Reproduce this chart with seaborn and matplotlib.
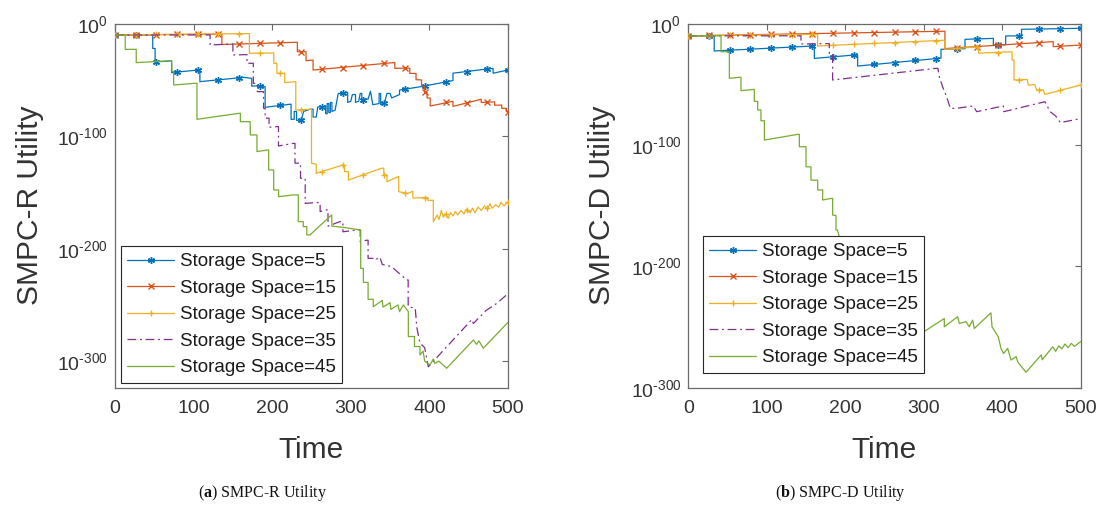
import numpy as np
import matplotlib
matplotlib.use("Agg")
import matplotlib.pyplot as plt
import seaborn as sns
from matplotlib.lines import Line2D

# ---------------- data (utility given as log10 exponent) ----------------
LABELS = ["Storage Space=5", "Storage Space=15", "Storage Space=25",
          "Storage Space=35", "Storage Space=45"]
COLORS = ["#0072BD", "#D95319", "#EDB120", "#7E2F8E", "#77AC30"]
MARK_T = [0, 26.3, 52.6, 78.9, 105.3, 131.6, 157.9, 184.2, 210.5, 236.8,
          263.2, 289.5, 315.8, 342.1, 368.4, 394.7, 421.1, 447.4, 473.7, 500]
X_TICKS = [0, 100, 200, 300, 400, 500]
Y_TICKS = [0, -100, -200, -300]
Y_TICK_LABELS = [r"$10^{0}$", r"$10^{\text{-}100}$", r"$10^{\text{-}200}$", r"$10^{\text{-}300}$"]

# ---- SMPC-R ----
L5_T = [0, 48, 48, 51, 51, 72, 72, 108, 108, 164, 174, 174, 186, 186, 191, 191, 224, 224, 228, 228,
        231, 231, 237, 240, 248, 252, 252, 256, 258, 264, 268, 268, 270, 270, 272, 272, 274, 274, 276, 276,
        280, 284, 290, 296, 296, 300, 302, 306, 306, 310, 312, 314, 314, 318, 322, 325, 328, 336, 336, 338,
        338, 343, 346, 350, 352, 362, 362, 394, 430, 430, 473, 481, 481, 500]
L5_E = [-10, -10, -22, -22, -34, -33, -43.5, -41, -51.5, -47.7, -48.6, -55.5, -55, -56, -56, -74.3, -71.5, -85, -85, -78,
        -78, -86, -85.5, -78, -76, -76, -83, -83, -74, -74, -73, -80, -80, -71, -71, -79, -79, -70, -70, -78,
        -77, -62, -62, -61, -70, -69, -63, -63, -70, -69, -62, -62, -70, -67, -67, -60, -72, -71, -62, -62,
        -72, -70, -62, -62, -66, -63, -59, -55.4, -50.5, -44, -40.3, -39.8, -44, -41.2]
L5_M = [-10, -10, -33.9, -43, -41.2, -49.9, -48.1, -55.1, -72.6, -85.5, -74, -62, -68, -70.4, -58.3,
        -55.3, -51.7, -42.5, -40.3, -41.2]

L15_T = [0, 136, 136, 212, 232, 232, 243, 243, 252, 252, 356, 356, 375, 375, 383, 383, 390, 390, 394, 394,
         397, 397, 401, 401, 430, 430, 466, 466, 483, 483, 492, 492, 498, 498, 500]
L15_E = [-10, -9.3, -18.5, -16.9, -16.5, -24.9, -24.9, -32.9, -32.3, -41.2, -34.5, -39.7, -39.5, -44.1, -44.3,
         -49.8, -50, -55.4, -55.6, -61, -61, -66, -66, -73.2, -69, -73.5, -67.2, -70, -69.5, -72.5,
         -72.3, -75.2, -75.2, -78.2, -78.2]
L15_M = [-10, -9.9, -9.7, -9.6, -9.5, -9.3, -18, -17.5, -16.9, -24.9, -40.5, -39, -37.7, -35.3, -39.6,
         -61, -69.3, -70.4, -69.8, -78.2]

L25_T = [0, 171, 171, 202, 202, 206, 206, 216, 216, 230, 230, 250, 250, 256, 256, 290, 292, 292, 297, 297,
         339, 342, 342, 346, 346, 360, 361, 361, 372, 379, 379, 398, 398, 405, 405, 410, 412, 414, 415, 418,
         420, 424, 427, 430, 433, 436, 440, 444, 447, 452, 455, 458, 462, 466, 470, 474, 477, 480, 484, 488,
         491, 495, 500]
L25_E = [-10, -8.8, -26.3, -26, -35.2, -35.2, -44.1, -44.1, -52.4, -51.5, -76.7, -76, -124, -125, -133, -125.6,
         -125.6, -131.5, -131.5, -139, -128.5, -128.5, -134.5, -134.5, -140.4, -136, -136, -149.3, -151, -149,
         -155, -154.5, -157, -157, -176, -170, -174, -170, -166, -172, -169, -173, -168, -171, -167, -170,
         -166, -169, -165, -168, -164, -168, -163, -166, -162, -165, -160, -164, -161, -163, -159, -162, -158.4]
L25_M = [-10, -9.8, -9.6, -9.4, -9.3, -9.1, -8.9, -26.2, -44.1, -76.4, -131.4, -125.6, -134.3, -134.5,
         -150.4, -154.6, -169, -166, -163.5, -158.4]

L35_T = [0, 121, 121, 150, 150, 166, 168, 168, 176, 176, 181, 181, 189, 189, 191, 191, 196, 196, 206, 208,
         208, 227, 229, 229, 236, 236, 242, 242, 257, 261, 261, 269, 271, 271, 286, 290, 290, 307, 312, 312,
         320, 322, 322, 329, 331, 337, 340, 352, 371, 373, 373, 382, 384, 388, 394, 398.6, 454, 456, 472, 486,
         500]
L35_E = [-10, -10, -18.9, -18, -27.8, -27.5, -27.5, -35.2, -35.2, -53, -53, -60.4, -60.4, -75.2, -75.2, -84,
         -84, -92, -91.5, -91.5, -108.7, -106.4, -106.4, -124, -124, -137.4, -137.4, -159.7, -159, -159,
         -167, -165.5, -165.5, -180, -176, -176, -185, -183.4, -183.4, -193.8, -192.5, -192.5, -208.6, -208.6,
         -210, -207.5, -214, -216, -227.8, -227.8, -251.6, -253, -270, -284, -288, -305, -263, -266.5, -255,
         -248.5, -240]

L45_T = [0, 13, 13, 27, 27, 72, 72.5, 74.6, 74.6, 101.4, 104.3, 104.3, 157.3, 159.5, 159.5, 172, 172.2, 180.6,
         180.6, 193.4, 195.5, 195.5, 201.9, 201.9, 208.2, 208.2, 226.8, 233.2, 233.2, 239.5, 239.5, 244, 244,
         248, 275.6, 276, 290, 312.6, 312.6, 316, 316, 322, 322, 328.6, 328.6, 340, 341, 350, 351, 360, 362,
         366.8, 373.2, 373.2, 381, 381, 388, 388, 392, 394, 400.8, 405, 407, 412, 422, 456, 460, 463, 468.6,
         500]
L45_E = [-10, -10, -22.8, -22.8, -34.6, -32.9, -42.6, -42.6, -54.5, -53, -53, -85, -79.7, -79.7, -87.1, -87.1,
         -98.9, -98.9, -113.7, -112.3, -112.3, -130, -130, -147.8, -147.8, -153.8, -152.2, -152.2, -176, -176,
         -180.4, -180.4, -187.8, -187.8, -170, -180, -181, -183.4, -217.5, -217.5, -230, -230, -245, -245,
         -251.6, -246, -252, -248, -254, -250, -256, -250, -256, -278.2, -278, -287, -287, -294.5, -291, -300,
         -303.3, -298, -302, -300, -306.3, -281.2, -285, -282, -288.5, -265.5]

# ---- SMPC-D ----
R5_T = [0, 33, 33, 158.5, 160.6, 160.6, 211.6, 215.8, 215.8, 317.8, 322, 322, 352.6, 352.6, 388.7, 388.7,
        404.4, 404.4, 424.6, 424.6, 500]
R5_E = [-10, -10, -22.5, -18.4, -18.4, -28.6, -25.8, -25.8, -34.9, -28.6, -28.4, -21.1, -20.6, -12.9, -12.1,
        -17.6, -17.3, -10.1, -10, -4.6, -3.8]
R5_M = [-10, -10, -21.9, -21, -20.2, -19.3, -18.4, -27.3, -25.8, -33.6, -32, -30.3, -28.7, -20.9, -12.6,
        -17.5, -10, -4.4, -4.1, -3.8]

R15_T = [0, 327, 327, 465, 465, 500]
R15_E = [-10, -6.2, -20.5, -14.8, -18.9, -17.6]
R15_M = [-10, -9.7, -9.4, -9.1, -8.8, -8.5, -8.2, -7.9, -7.6, -7.3, -6.9, -6.6, -6.3, -19.9, -18.8,
         -17.7, -16.6, -15.5, -18.6, -17.6]

R25_T = [0, 160.6, 164.8, 164.8, 327, 327, 370, 370, 410, 412.6, 412.6, 415, 415, 432, 433.2, 441.7, 443.8,
         452.3, 454.4, 500]
R25_E = [-10, -8.8, -8.8, -18.4, -13.6, -21.1, -19, -24.3, -23.2, -23.2, -30, -30, -46.4, -46, -50.5, -50.3,
         -54.7, -54.5, -58.3, -50.5]
R25_M = [-10, -9.8, -9.6, -9.4, -9.2, -9, -8.8, -17.8, -17, -16.3, -15.5, -14.7, -13.9, -20.4, -19.1,
         -23.8, -46.3, -54.6, -55, -50.5]

R35_T = [0, 143.6, 143.6, 179.7, 179.7, 183.9, 183.9, 315.6, 318, 320, 324, 329, 334, 341, 363, 367.5, 401.4,
         402, 454.5, 461, 468, 474, 498]
R35_E = [-10, -10, -16.7, -16.4, -24.4, -24.4, -46.4, -36.8, -36.8, -44, -51.9, -60, -69.8, -69.8, -67.8,
         -72.5, -67.8, -72.5, -64.3, -72.5, -76, -81.5, -78.5]

R45_T = [0, 41.7, 41.7, 52.3, 52.3, 65, 67.1, 67.1, 84.1, 84.1, 88.4, 88.4, 92.6, 92.6, 97, 97, 139.4, 141.5,
         141.5, 147.9, 150, 150, 154, 156.3, 156.3, 162, 164.9, 164.9, 169, 171.2, 171.2, 181.8, 183.9, 183.9,
         186, 188.2, 188.2, 190, 192.4, 196, 220, 250, 280, 295, 326.2, 326.2, 343.2, 345.3, 353.8, 358,
         362.3, 364.4, 385.6, 387, 395, 398.4, 401.7, 407, 411.2, 417.6, 420, 430.3, 449.8, 451, 464.3, 468,
         472, 476, 480, 484, 488, 492, 500]
R45_E = [-10, -10, -23.1, -23.1, -45, -44.2, -44.2, -55.2, -54.1, -64, -64, -71.1, -71.1, -80, -80, -95.9,
         -91.2, -91.2, -101.4, -101.4, -101.4, -117.9, -118, -118, -128.9, -129, -129, -137.1, -137, -137,
         -145.3, -144, -144, -157.7, -158, -158, -170, -170, -175.6, -183, -205, -228, -248, -256, -243,
         -249.8, -241.5, -247, -245.6, -249.8, -244.3, -251.2, -238.3, -249.8, -258, -267.6, -271.8, -267.6,
         -277.2, -274.4, -279, -287.3, -273, -277, -266.3, -270, -265.5, -268, -264, -267, -263.5, -266, -262]

# ---------------- style ----------------
sns.set_theme(style="white")
plt.rcParams["font.family"] = ["Liberation Sans", "DejaVu Sans"]
plt.rcParams["mathtext.fontset"] = "custom"
plt.rcParams["mathtext.rm"] = "Liberation Sans"
plt.rcParams["mathtext.it"] = "Liberation Sans:italic"
plt.rcParams["mathtext.bf"] = "Liberation Serif:bold"
plt.rcParams["mathtext.default"] = "rm"

STYLES = [("-", (6, 2, 0)), ("-", "x"), ("-", "+"), ((0, (7, 3, 1.5, 3)), None), ("-", None)]
SPINE = "#6a6a6a"
TXT = "#333333"
MS = 5.0

W, H = 1097, 512
fig = plt.figure(figsize=(W / 100, H / 100), dpi=100)
fig.patch.set_facecolor("white")


def panel(ax, lines, marks, ylo, legend_xy):
    for i, (T, E) in enumerate(lines):
        ls, mk = STYLES[i]
        sns.lineplot(x=np.array(T, float), y=np.array(E, float), ax=ax, sort=False, estimator=None,
                     color=COLORS[i], linewidth=0.9, linestyle=ls, legend=False, zorder=2 + i)
        if mk is not None:
            ax.plot(MARK_T, marks[i], linestyle="none", marker=mk, color=COLORS[i],
                    markersize=MS, markeredgewidth=1.0, zorder=2 + i)
    ax.set_xlim(0, 500)
    ax.set_ylim(ylo, 0)
    ax.set_xticks(X_TICKS)
    ax.set_xticklabels([str(v) for v in X_TICKS])
    ax.set_yticks(Y_TICKS)
    ax.set_yticklabels(Y_TICK_LABELS)
    ax.set_xlabel("")
    ax.set_ylabel("")
    ax.grid(False)
    ax.tick_params(direction="in", top=True, right=True, length=4, width=0.8,
                   color=SPINE, labelcolor=TXT, labelsize=14)
    ax.tick_params(axis="x", pad=9)
    ax.tick_params(axis="y", pad=5)
    for sp in ax.spines.values():
        sp.set_color(SPINE)
        sp.set_linewidth(0.9)
        sp.set_visible(True)
    handles = []
    for i in range(5):
        ls, mk = STYLES[i]
        handles.append(Line2D([], [], color=COLORS[i], linestyle=ls, linewidth=0.9,
                              marker=mk if mk is not None else "", markersize=MS,
                              markeredgewidth=1.0))
    leg = ax.legend(handles, LABELS, loc="lower left", bbox_to_anchor=legend_xy,
                    borderaxespad=0, fontsize=13.5, handlelength=2.5, handletextpad=0.3,
                    borderpad=0.35, labelspacing=0.5, numpoints=1, fancybox=False,
                    framealpha=1, edgecolor="#262626", labelcolor="#1a1a1a")
    leg.get_frame().set_linewidth(0.8)
    leg.set_zorder(20)


axL = fig.add_axes([115 / W, 1 - 387.7 / H, 393 / W, 364 / H])
panel(axL, [(L5_T, L5_E), (L15_T, L15_E), (L25_T, L25_E), (L35_T, L35_E), (L45_T, L45_E)],
      [L5_M, L15_M, L25_M], -323.6, (0.0145, 0.0137))

axR = fig.add_axes([688.3 / W, 1 - 387.7 / H, 392.4 / W, 364 / H])
panel(axR, [(R5_T, R5_E), (R15_T, R15_E), (R25_T, R25_E), (R35_T, R35_E), (R45_T, R45_E)],
      [R5_M, R15_M, R25_M], -300, (0.0367, 0.0412))

# axis titles
fig.text(44.5 / W, 1 - 205.7 / H, "SMPC-R Utility", rotation=90, ha="right", va="center",
         fontsize=21.5, color=TXT)
fig.text(616.3 / W, 1 - 205.7 / H, "SMPC-D Utility", rotation=90, ha="right", va="center",
         fontsize=21.5, color=TXT)
fig.text(311.5 / W, 1 - 458 / H, "Time", ha="center", va="baseline", fontsize=21.5, color=TXT)
fig.text(884.5 / W, 1 - 458 / H, "Time", ha="center", va="baseline", fontsize=21.5, color=TXT)

# captions
fig.text(263 / W, 1 - 497 / H, r"($\mathbf{a}$) SMPC-R Utility", ha="center", va="baseline",
         fontsize=11.5, family=["Liberation Serif", "DejaVu Serif"], color="#111111")
fig.text(840 / W, 1 - 497 / H, r"($\mathbf{b}$) SMPC-D Utility", ha="center", va="baseline",
         fontsize=11.5, family=["Liberation Serif", "DejaVu Serif"], color="#111111")

fig.savefig("out.png", dpi=100, facecolor="white")
